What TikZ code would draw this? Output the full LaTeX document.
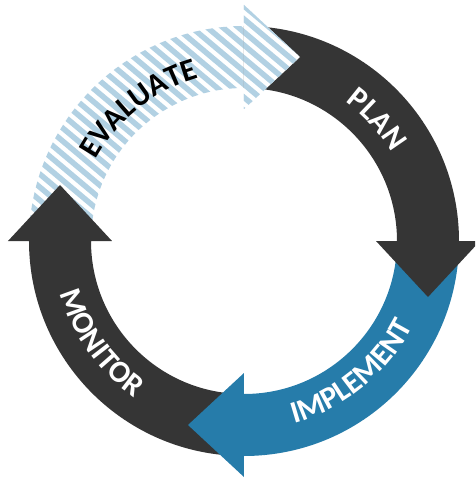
\documentclass[tikz,border=0pt]{standalone}
\usepackage{fontspec}
\setmainfont{Carlito}
\usetikzlibrary{decorations.text}
\definecolor{darkarrow}{HTML}{353535}
\definecolor{bluearrow}{HTML}{267CAA}
\definecolor{stripeblue}{HTML}{B2D1E3}
\tikzset{
  arrowshape/.style={insert path={
    ({#1}:215pt) arc[start angle={#1}, end angle={#1-90}, radius=215pt]
    -- ({#1-90}:236pt) -- ({#1-106.93}:192.33pt) -- ({#1-90}:132pt)
    -- ({#1-90}:153pt) arc[start angle={#1-90}, end angle={#1}, radius=153pt] -- cycle}},
  headshape/.style={insert path={
    ({#1-90}:236pt) -- ({#1-106.93}:192.33pt) -- ({#1-90}:132pt) -- cycle}},
  stripeline/.style={stripeblue, line width=5.5pt},
  ringtext/.style n args={2}{decorate, decoration={text along path,
    text={|\bfseries\fontsize{31}{31}\selectfont|#1}, text color=#2, text align=center}}
}
\begin{document}
\begin{tikzpicture}[x=1pt,y=1pt]
\useasboundingbox (-244,-238) rectangle (231,241);
\clip (-244,-238) rectangle (231,241);
% EVALUATE (striped)
\begin{scope}
  \path[clip, arrowshape=180];
  \fill[white] (-244,-238) rectangle (231,241);
  \begin{scope}[rotate=-40]
    \foreach \k in {-50,...,50} \draw[stripeline] (-400,\k*10) -- (400,\k*10);
  \end{scope}
\end{scope}
% MONITOR
\fill[darkarrow, arrowshape=-90];
% IMPLEMENT
\fill[bluearrow, arrowshape=0];
% PLAN
\fill[darkarrow, arrowshape=90];
% EVALUATE head over PLAN
\begin{scope}
  \path[clip, headshape=180];
  \fill[white] (-244,-238) rectangle (231,241);
  \begin{scope}[rotate=-40]
    \foreach \k in {-50,...,50} \draw[stripeline] (-400,\k*10) -- (400,\k*10);
  \end{scope}
\end{scope}
% labels
\path[ringtext={PLAN}{white}] (72.5:172pt) arc[start angle=72.5, end angle=12.5, radius=172pt];
\path[ringtext={EVALUATE}{black}] (158.4:169pt) arc[start angle=158.4, end angle=98.4, radius=169pt];
\path[ringtext={MONITOR}{white}] (185.5:191pt) arc[start angle=185.5, end angle=245.5, radius=191pt];
\path[ringtext={IMPLEMENT}{white}] (-80.7:189pt) arc[start angle=-80.7, end angle=-20.7, radius=189pt];
\end{tikzpicture}
\end{document}
